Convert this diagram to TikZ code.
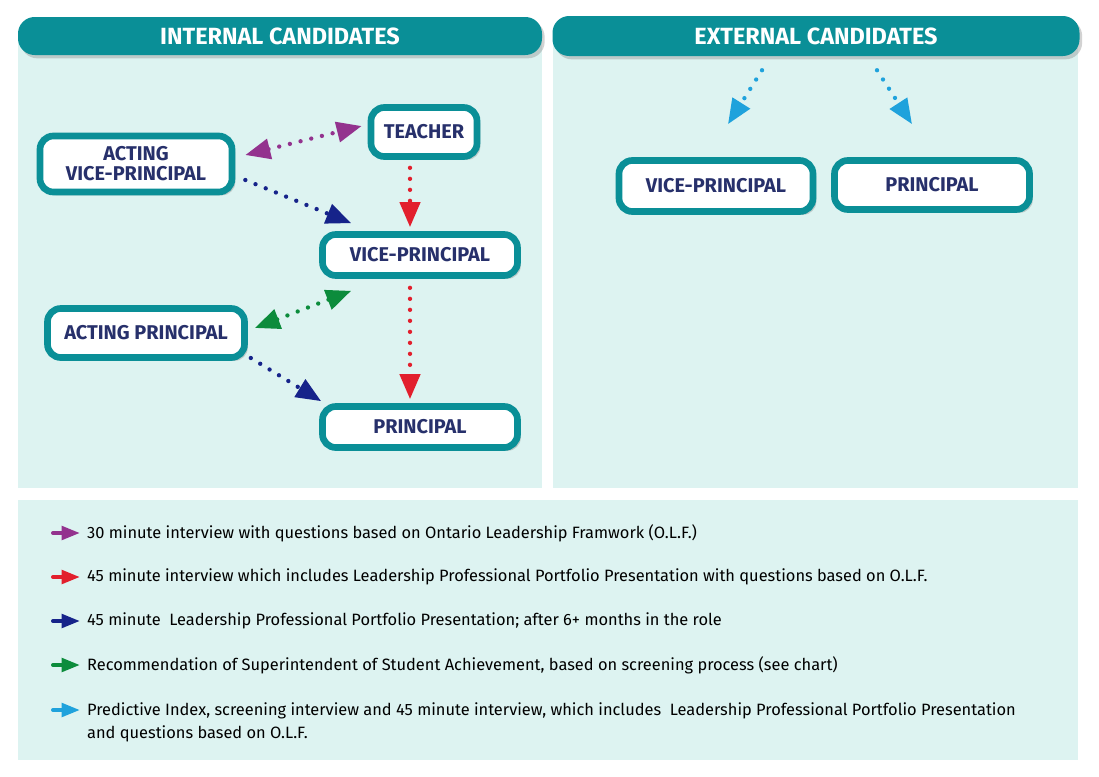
\documentclass[tikz,border=0pt]{standalone}
\usepackage{fontspec}
\setmainfont{Fira Sans}
\usetikzlibrary{arrows.meta,calc,shadows,positioning}

\definecolor{teal1}{HTML}{0A8F97}
\definecolor{panel}{HTML}{DDF3F1}
\definecolor{navytext}{HTML}{27306B}
\definecolor{cpurple}{HTML}{93328E}
\definecolor{cred}{HTML}{E21F2D}
\definecolor{cnavy}{HTML}{16238A}
\definecolor{cgreen}{HTML}{0C8C3C}
\definecolor{ccyan}{HTML}{1FA2DC}

\begin{document}
\begin{tikzpicture}[x=0.03cm,y=-0.03cm,
  role/.style={draw=teal1,line width=0.2cm,fill=white,rounded corners=0.4cm,
    text=navytext,font=\bfseries\fontsize{17}{20}\selectfont,align=center,
    drop shadow={opacity=0.35,shadow xshift=0.1cm,shadow yshift=-0.1cm}},
  bar/.style={fill=teal1,rounded corners=0.5cm,text=white,
    font=\bfseries\fontsize{20}{24}\selectfont,
    drop shadow={opacity=0.35,shadow xshift=0.08cm,shadow yshift=-0.1cm}},
  path/.style={line width=0.13cm,line cap=round,dash pattern=on 0pt off 0.33cm},
  one/.style={path,-{Triangle[length=0.75cm,width=0.6cm]}},
  two/.style={path,{Triangle[length=0.75cm,width=0.6cm]}-{Triangle[length=0.75cm,width=0.6cm]}},
  key/.style={line width=0.12cm,line cap=round,-{Triangle[length=0.55cm,width=0.4cm]}},
  keytext/.style={anchor=west,font=\fontsize{14}{19}\selectfont,align=left}]
\useasboundingbox (0,0) rectangle (1099,776);
\fill[white] (0,0) rectangle (1099,776);

% panels
\fill[panel] (18,40) rectangle (542,488);
\fill[panel] (553,40) rectangle (1078,488);
\fill[panel] (18,500) rectangle (1078,760);
\node[bar,minimum width=524*0.03cm,minimum height=38*0.03cm] (tint) at (280,36) {INTERNAL CANDIDATES};
\node[bar,minimum width=527*0.03cm,minimum height=40*0.03cm] (text) at (816,36) {EXTERNAL CANDIDATES};

% internal roles
\node[role,minimum width=192*0.03cm,minimum height=56*0.03cm] (avp) at (136,164) {ACTING\\[-3pt]VICE-PRINCIPAL};
\node[role,minimum width=106*0.03cm,minimum height=49*0.03cm] (teacher) at (424,132) {TEACHER};
\node[role,minimum width=195*0.03cm,minimum height=41*0.03cm] (vp) at (420,255) {VICE-PRINCIPAL};
\node[role,minimum width=197*0.03cm,minimum height=49*0.03cm] (ap) at (146,333) {ACTING PRINCIPAL};
\node[role,minimum width=195*0.03cm,minimum height=41*0.03cm] (p) at (420,427) {PRINCIPAL};

% external roles
\node[role,minimum width=194*0.03cm,minimum height=51*0.03cm] (evp) at (716,186) {VICE-PRINCIPAL};
\node[role,minimum width=195*0.03cm,minimum height=49*0.03cm] (ep) at (932,185) {PRINCIPAL};

% connectors
\draw[two,cpurple] ($(avp.east)+(10,-9)$) -- ($(teacher.west)+(-6,-6)$);
\draw[one,cnavy] ($(avp.east)+(10,16)$) -- ($(vp.north west)+(32,-8)$);
\draw[one,cred] ($(teacher.south)+(-14,8)$) -- ($(vp.north)+(-10,-4)$);
\draw[two,cgreen] ($(ap.east)+(7,-5)$) -- ($(vp.south west)+(32,12)$);
\draw[one,cnavy] ($(ap.east)+(3,25)$) -- ($(p.north west)+(2,-2)$);
\draw[one,cred] ($(vp.south)+(-10,9)$) -- ($(p.north)+(-10,-4)$);
\draw[one,ccyan] ($(text.south)+(-54,14)$) coordinate (c1) -- ($(evp.north)+(12,-33)$);
\draw[one,ccyan] ($(text.south)+(61,14)$) coordinate (c2) -- ($(ep.north)+(-20,-33)$);

% key
\foreach \y/\c/\t in {533/cpurple/{30 minute interview with questions based on Ontario Leadership Framwork (O.L.F.)},
  577/cred/{45 minute interview which includes Leadership Professional Portfolio Presentation with questions based on O.L.F.},
  621/cnavy/{45 minute\ \ Leadership Professional Portfolio Presentation; after 6+ months in the role},
  665/cgreen/{Recommendation of Superintendent of Student Achievement, based on screening process (see chart)}}{
  \draw[key,\c] (53,\y) -- (80,\y);
  \node[keytext] (k\y) at (83,\y) {\t};
}
\draw[key,ccyan] (53,710) -- (80,710);
\node[keytext,anchor=north west] (k710) at (83,699) {Predictive Index, screening interview and 45 minute interview, which includes\ \ Leadership Professional Portfolio Presentation\\and questions based on O.L.F.};
\end{tikzpicture}
\end{document}
